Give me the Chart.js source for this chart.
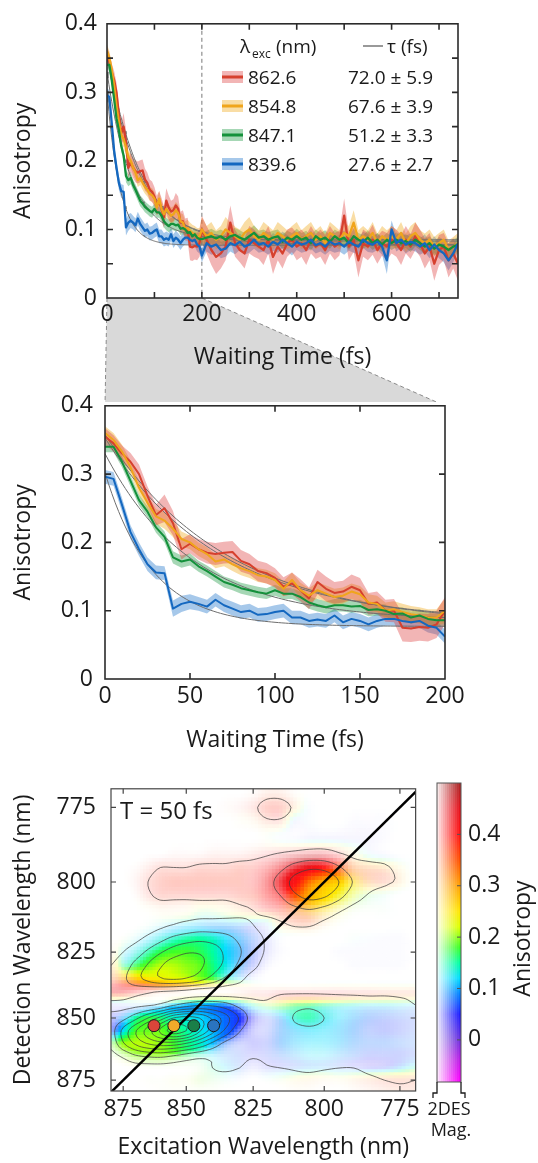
<!DOCTYPE html>
<html>
<head>
<meta charset="utf-8">
<title>Anisotropy decay and 2D anisotropy map</title>
<script src="https://cdn.jsdelivr.net/npm/chart.js@4.4.1/dist/chart.umd.min.js"></script>
<style>
html,body{margin:0;padding:0;background:#ffffff;}
#wrap{position:relative;width:538px;height:1163px;overflow:hidden;background:#fff;}
canvas{position:absolute;display:block;}
</style>
</head>
<body>
<div id="wrap">
<canvas id="cMid" width="538" height="380" style="left:0;top:380px;width:538px;height:380px;"></canvas>
<canvas id="cTop" width="538" height="402" style="left:0;top:0;width:538px;height:402px;"></canvas>
<canvas id="cMap" width="425" height="403" style="left:0;top:760px;width:425px;height:403px;"></canvas>
<canvas id="cBar" width="113" height="403" style="left:425px;top:760px;width:113px;height:403px;"></canvas>
</div>
<script>
// ---------------- DATA ----------------
const timesFs = [0,5,10,15,20,25,30,35,40,45,50,55,60,65,70,75,80,85,90,95,100,105,110,115,120,125,130,135,140,145,150,155,160,165,170,175,180,185,190,195,200,
 210,220,230,240,250,260,270,280,290,300,310,320,330,340,350,360,370,380,390,400,410,420,430,440,450,460,470,480,490,500,
 510,520,530,540,550,560,570,580,590,600,610,620,630,640,650,660,670,680,690,700,710,720,730,740];

const seriesLabels = ['862.6','854.8','847.1','839.6'];
const tauLabels = ['72.0 \u00b1 5.9','67.6 \u00b1 3.9','51.2 \u00b1 3.3','27.6 \u00b1 2.7'];

const anis862 = [0.355,0.345,0.33,0.318,0.3,0.268,0.24,0.25,0.228,0.19,0.198,0.19,0.185,0.183,0.185,0.186,0.173,0.168,0.158,0.155,0.148,0.135,0.14,0.13,0.118,0.142,0.132,0.126,0.128,0.135,0.13,0.11,0.112,0.1,0.1,0.075,0.074,0.076,0.075,0.08,0.1,
 0.085,0.07,0.06,0.065,0.075,0.11,0.08,0.07,0.065,0.085,0.08,0.075,0.07,0.085,0.06,0.075,0.065,0.08,0.085,0.075,
 0.08,0.07,0.085,0.075,0.08,0.07,0.085,0.075,0.08,0.12,0.075,0.085,0.055,0.08,0.075,0.085,0.07,0.08,0.075,0.085,
 0.08,0.07,0.085,0.075,0.09,0.08,0.065,0.075,0.05,0.07,0.075,0.055,0.065,0.05];
const anis855 = [0.36,0.35,0.333,0.31,0.28,0.258,0.238,0.232,0.22,0.205,0.2,0.19,0.183,0.172,0.175,0.168,0.162,0.158,0.152,0.15,0.145,0.132,0.145,0.13,0.122,0.13,0.125,0.12,0.122,0.128,0.124,0.112,0.11,0.1,0.102,0.098,0.095,0.093,0.09,0.09,0.1,
 0.09,0.095,0.085,0.09,0.1,0.095,0.09,0.085,0.095,0.1,0.09,0.085,0.095,0.09,0.085,0.095,0.09,0.085,0.09,0.095,
 0.085,0.09,0.095,0.085,0.09,0.08,0.095,0.09,0.085,0.095,0.09,0.11,0.085,0.09,0.085,0.095,0.08,0.09,0.085,0.09,
 0.085,0.095,0.08,0.09,0.095,0.085,0.08,0.085,0.075,0.08,0.085,0.07,0.075,0.08];
const anis847 = [0.34,0.34,0.318,0.29,0.262,0.245,0.222,0.208,0.178,0.172,0.175,0.165,0.158,0.15,0.142,0.138,0.133,0.13,0.127,0.125,0.13,0.125,0.125,0.12,0.112,0.108,0.105,0.108,0.108,0.106,0.107,0.101,0.102,0.1,0.095,0.096,0.09,0.093,0.088,0.086,0.086,
 0.088,0.09,0.087,0.09,0.085,0.09,0.092,0.088,0.085,0.09,0.095,0.088,0.09,0.085,0.088,0.09,0.082,0.088,0.085,0.09,
 0.085,0.088,0.08,0.09,0.085,0.088,0.082,0.09,0.085,0.088,0.08,0.09,0.085,0.082,0.088,0.08,0.085,0.078,0.085,0.08,
 0.085,0.08,0.083,0.078,0.085,0.08,0.075,0.08,0.072,0.078,0.075,0.07,0.075,0.078];
const anis840 = [0.296,0.293,0.255,0.215,0.19,0.168,0.156,0.155,0.103,0.11,0.113,0.11,0.106,0.116,0.108,0.103,0.098,0.1,0.094,0.095,0.098,0.1,0.09,0.09,0.085,0.087,0.085,0.093,0.083,0.088,0.085,0.08,0.085,0.088,0.088,0.085,0.083,0.085,0.078,0.075,0.062,
 0.08,0.075,0.078,0.07,0.072,0.08,0.077,0.082,0.075,0.078,0.085,0.078,0.08,0.075,0.082,0.078,0.085,0.08,0.075,0.082,
 0.078,0.08,0.085,0.077,0.08,0.075,0.082,0.078,0.08,0.075,0.082,0.078,0.075,0.085,0.08,0.078,0.082,0.075,0.055,0.1,
 0.08,0.085,0.078,0.082,0.08,0.075,0.08,0.07,0.078,0.07,0.065,0.055,0.065,0.08];

const err862 = [0.012,0.012,0.012,0.013,0.014,0.014,0.015,0.02,0.018,0.015,0.014,0.015,0.016,0.016,0.016,0.016,0.016,0.015,0.015,0.015,0.014,0.014,0.016,0.016,0.016,0.018,0.018,0.016,0.016,0.018,0.018,0.016,0.016,0.016,0.017,0.02,0.02,0.02,0.02,0.02,0.02,
 0.02,0.022,0.025,0.022,0.02,0.025,0.02,0.018,0.022,0.02,0.02,0.018,0.022,0.02,0.025,0.02,0.022,0.02,0.018,0.02,
 0.02,0.022,0.02,0.018,0.02,0.022,0.02,0.02,0.018,0.025,0.02,0.018,0.025,0.02,0.02,0.022,0.02,0.018,0.02,0.02,
 0.02,0.022,0.02,0.018,0.02,0.02,0.022,0.02,0.025,0.022,0.02,0.025,0.022,0.025];
const err855 = [0.01,0.01,0.01,0.01,0.01,0.011,0.011,0.012,0.012,0.011,0.01,0.01,0.01,0.01,0.01,0.01,0.01,0.01,0.01,0.01,0.01,0.011,0.011,0.011,0.011,0.012,0.012,0.012,0.012,0.012,0.012,0.012,0.012,0.012,0.012,0.012,0.012,0.012,0.012,0.012,0.018,
 0.015,0.016,0.014,0.015,0.018,0.015,0.014,0.015,0.016,0.018,0.015,0.014,0.016,0.015,0.014,0.016,0.015,0.014,0.015,0.016,
 0.014,0.015,0.016,0.014,0.015,0.014,0.016,0.015,0.014,0.016,0.015,0.018,0.014,0.015,0.014,0.016,0.014,0.015,0.014,0.015,
 0.014,0.016,0.014,0.015,0.016,0.014,0.014,0.015,0.014,0.015,0.015,0.014,0.014,0.015];
const err847 = [0.008,0.008,0.008,0.008,0.008,0.008,0.008,0.008,0.009,0.009,0.009,0.008,0.008,0.008,0.008,0.008,0.008,0.008,0.008,0.008,0.008,0.008,0.008,0.008,0.009,0.009,0.009,0.009,0.009,0.009,0.009,0.009,0.009,0.009,0.009,0.009,0.009,0.009,0.009,0.009,0.009,
 0.01,0.011,0.01,0.01,0.011,0.01,0.01,0.011,0.01,0.01,0.011,0.01,0.01,0.011,0.01,0.01,0.011,0.01,0.01,0.011,
 0.01,0.01,0.011,0.01,0.01,0.011,0.01,0.01,0.011,0.01,0.01,0.011,0.01,0.01,0.011,0.01,0.01,0.011,0.01,0.01,
 0.011,0.01,0.01,0.011,0.01,0.01,0.011,0.01,0.01,0.011,0.01,0.01,0.011,0.01];
const err840 = [0.01,0.01,0.01,0.01,0.01,0.01,0.01,0.01,0.012,0.012,0.011,0.01,0.01,0.01,0.01,0.01,0.01,0.01,0.01,0.01,0.01,0.01,0.01,0.01,0.01,0.01,0.01,0.01,0.01,0.01,0.01,0.01,0.01,0.01,0.01,0.01,0.01,0.01,0.01,0.01,0.01,
 0.012,0.012,0.013,0.012,0.012,0.012,0.013,0.012,0.012,0.012,0.013,0.012,0.012,0.012,0.013,0.012,0.012,0.012,0.013,0.012,
 0.012,0.012,0.013,0.012,0.012,0.012,0.013,0.012,0.012,0.012,0.013,0.012,0.012,0.012,0.013,0.012,0.012,0.012,0.02,0.013,
 0.012,0.012,0.013,0.012,0.012,0.012,0.013,0.012,0.012,0.012,0.013,0.015,0.013,0.012];

// exponential fit parameters (amplitude, tau in fs, offset)
const fitAmp = [0.28,0.27,0.245,0.225];
const fitTau = [72.0,67.6,51.2,27.6];
const fitOffset = [0.078,0.083,0.085,0.077];

const topXTicks = [0,100,200,300,400,500,600,700];
const topXLabels = [0,200,400,600];
const topYTicks = [0,0.05,0.1,0.15,0.2,0.25,0.3,0.35,0.4];
const yLabels = [0,0.1,0.2,0.3,0.4];
const midXTicks = [0,50,100,150,200];
const midYTicks = [0,0.1,0.2,0.3,0.4];
const zoomWindow = [0,200];

// 2D map (T = 50 fs): excitation columns, detection rows (nm)
const excWl = [880,875,870,865,860,855,850,845,840,835,830,825,820,815,810,805,800,795,790,785,780,775,770];
const detWl = [770,775,780,785,790,795,800,805,810,815,820,825,830,835,840,845,850,855,860,865,870,875,880];
// normalized 2DES magnitude
const magGrid = [
 [0.03,0.03,0.03,0.03,0.03,0.03,0.03,0.04,0.04,0.05,0.05,0.06,0.08,0.08,0.06,0.05,0.04,0.04,0.04,0.04,0.04,0.04,0.04],
 [0.03,0.03,0.04,0.04,0.04,0.04,0.04,0.04,0.05,0.06,0.07,0.09,0.12,0.12,0.09,0.06,0.05,0.05,0.05,0.05,0.05,0.05,0.05],
 [0.03,0.03,0.04,0.04,0.05,0.05,0.04,0.04,0.05,0.05,0.06,0.07,0.09,0.09,0.07,0.06,0.05,0.05,0.06,0.06,0.06,0.05,0.05],
 [0.03,0.03,0.04,0.05,0.05,0.05,0.05,0.05,0.05,0.05,0.05,0.05,0.06,0.06,0.06,0.07,0.07,0.07,0.07,0.07,0.06,0.05,0.05],
 [0.03,0.04,0.04,0.05,0.05,0.06,0.06,0.06,0.07,0.07,0.07,0.08,0.09,0.10,0.11,0.12,0.12,0.10,0.08,0.07,0.06,0.05,0.05],
 [0.04,0.05,0.06,0.08,0.10,0.10,0.10,0.11,0.11,0.11,0.12,0.12,0.14,0.18,0.24,0.28,0.27,0.21,0.14,0.12,0.11,0.08,0.05],
 [0.04,0.05,0.07,0.10,0.12,0.13,0.13,0.13,0.13,0.13,0.13,0.13,0.17,0.24,0.34,0.39,0.38,0.30,0.19,0.13,0.11,0.09,0.05],
 [0.03,0.04,0.06,0.09,0.11,0.11,0.11,0.11,0.11,0.11,0.12,0.13,0.16,0.20,0.28,0.33,0.31,0.23,0.14,0.09,0.07,0.05,0.04],
 [0.03,0.04,0.05,0.06,0.07,0.07,0.07,0.08,0.08,0.08,0.09,0.10,0.12,0.14,0.17,0.19,0.16,0.11,0.07,0.06,0.06,0.05,0.04],
 [0.03,0.04,0.05,0.06,0.08,0.10,0.12,0.13,0.13,0.13,0.12,0.10,0.08,0.09,0.11,0.11,0.08,0.06,0.05,0.05,0.05,0.05,0.04],
 [0.05,0.06,0.08,0.12,0.17,0.22,0.25,0.27,0.26,0.23,0.18,0.13,0.09,0.06,0.05,0.05,0.05,0.05,0.06,0.06,0.06,0.06,0.05],
 [0.07,0.10,0.15,0.22,0.29,0.35,0.39,0.39,0.35,0.28,0.21,0.14,0.09,0.06,0.05,0.05,0.05,0.06,0.06,0.06,0.06,0.06,0.05],
 [0.10,0.15,0.23,0.31,0.39,0.45,0.46,0.42,0.35,0.27,0.18,0.12,0.07,0.05,0.05,0.05,0.05,0.05,0.06,0.06,0.06,0.06,0.05],
 [0.12,0.18,0.26,0.33,0.39,0.41,0.39,0.34,0.26,0.18,0.12,0.07,0.05,0.04,0.04,0.05,0.05,0.05,0.05,0.05,0.05,0.05,0.05],
 [0.15,0.15,0.13,0.11,0.09,0.08,0.07,0.06,0.06,0.06,0.07,0.08,0.08,0.09,0.09,0.09,0.09,0.09,0.09,0.09,0.09,0.09,0.09],
 [0.08,0.08,0.08,0.09,0.12,0.19,0.25,0.29,0.28,0.24,0.17,0.12,0.11,0.14,0.17,0.18,0.16,0.14,0.13,0.12,0.12,0.11,0.10],
 [0.13,0.17,0.27,0.40,0.54,0.70,0.75,0.70,0.58,0.44,0.29,0.15,0.11,0.15,0.21,0.23,0.20,0.16,0.15,0.14,0.13,0.12,0.11],
 [0.16,0.33,0.49,0.65,0.82,0.95,0.90,0.72,0.54,0.37,0.21,0.12,0.11,0.15,0.17,0.18,0.17,0.16,0.15,0.13,0.13,0.12,0.11],
 [0.13,0.29,0.42,0.51,0.56,0.56,0.50,0.40,0.28,0.17,0.12,0.12,0.12,0.15,0.15,0.15,0.15,0.15,0.14,0.13,0.13,0.12,0.11],
 [0.07,0.12,0.19,0.22,0.23,0.20,0.16,0.13,0.12,0.11,0.11,0.105,0.11,0.12,0.12,0.12,0.12,0.12,0.12,0.12,0.12,0.12,0.11],
 [0.04,0.05,0.06,0.06,0.06,0.06,0.06,0.07,0.10,0.11,0.10,0.08,0.095,0.10,0.105,0.11,0.105,0.10,0.10,0.11,0.115,0.12,0.11],
 [0.04,0.04,0.05,0.06,0.06,0.07,0.07,0.09,0.08,0.07,0.06,0.05,0.06,0.07,0.08,0.08,0.07,0.07,0.08,0.09,0.10,0.105,0.10],
 [0.04,0.04,0.05,0.05,0.06,0.06,0.06,0.06,0.06,0.05,0.05,0.04,0.04,0.05,0.06,0.06,0.05,0.05,0.06,0.07,0.08,0.09,0.09]
];
// anisotropy
const anisoGrid = [
 [0.2,0.2,0.2,0.25,0.3,0.3,0.3,0.35,0.35,0.35,0.35,0.35,0.35,0.35,0.3,0.15,0.12,0.08,0.05,0.05,0.05,0.1,0.2],
 [0.3,0.3,0.25,0.2,0.2,0.2,0.25,0.3,0.35,0.35,0.38,0.38,0.38,0.38,0.3,0.1,0.12,0.08,0.04,0.04,0.05,0.15,0.22],
 [0.3,0.25,0.2,0.2,0.2,0.22,0.28,0.3,0.35,0.3,0.25,0.3,0.35,0.35,0.06,0.1,0.12,0.1,0.04,0.03,0.04,0.15,0.2],
 [0.25,0.22,0.2,0.18,0.2,0.25,0.3,0.35,0.38,0.38,0.38,0.3,0.2,0.1,0.05,0.06,0.06,0.04,0.03,0.03,0.04,0.08,0.15],
 [0.3,0.3,0.3,0.35,0.38,0.38,0.38,0.38,0.38,0.38,0.38,0.38,0.4,0.42,0.43,0.44,0.43,0.38,0.25,0.1,0.05,0.05,0.1],
 [0.3,0.32,0.35,0.38,0.38,0.38,0.38,0.38,0.38,0.38,0.38,0.39,0.41,0.43,0.44,0.43,0.4,0.36,0.33,0.32,0.3,0.25,0.15],
 [0.32,0.35,0.38,0.38,0.38,0.38,0.38,0.38,0.38,0.38,0.38,0.4,0.42,0.43,0.41,0.33,0.29,0.27,0.26,0.32,0.36,0.3,0.2],
 [0.3,0.32,0.35,0.38,0.38,0.38,0.38,0.38,0.38,0.38,0.38,0.38,0.4,0.4,0.35,0.29,0.26,0.24,0.22,0.18,0.15,0.12,0.1],
 [0.25,0.22,0.2,0.25,0.3,0.3,0.28,0.2,0.2,0.25,0.3,0.35,0.38,0.38,0.33,0.29,0.26,0.24,0.2,0.18,0.17,0.12,0.1],
 [0.2,0.2,0.18,0.15,0.13,0.12,0.12,0.11,0.1,0.1,0.1,0.08,0.1,0.3,0.35,0.35,0.3,0.22,0.2,0.2,0.18,0.1,0.08],
 [0.35,0.2,0.13,0.12,0.13,0.14,0.15,0.15,0.14,0.12,0.1,0.08,0.06,0.1,0.15,0.2,0.18,0.18,0.15,0.1,0.05,0.04,0.05],
 [0.3,0.13,0.13,0.15,0.17,0.18,0.18,0.17,0.15,0.12,0.1,0.07,0.05,0.05,0.05,0.04,0.04,0.04,0.04,0.04,0.04,0.04,0.05],
 [0.3,0.16,0.17,0.19,0.21,0.21,0.2,0.19,0.16,0.13,0.1,0.06,0.05,0.05,0.05,0.04,0.04,0.04,0.04,0.04,0.04,0.04,0.05],
 [0.35,0.3,0.27,0.25,0.24,0.23,0.22,0.2,0.18,0.15,0.12,0.08,0.05,0.04,0.04,0.04,0.04,0.04,0.04,0.04,0.04,0.04,0.05],
 [0.42,0.42,0.4,0.38,0.35,0.33,0.32,0.3,0.3,0.32,0.35,0.38,0.4,0.4,0.4,0.4,0.4,0.4,0.38,0.38,0.36,0.35,0.35],
 [0.06,0.08,0.1,0.11,0.12,0.12,0.11,0.11,0.1,0.09,0.1,0.15,0.2,0.2,0.18,0.17,0.16,0.15,0.14,0.13,0.13,0.13,0.12],
 [0.05,0.1,0.15,0.17,0.16,0.14,0.13,0.12,0.1,0.08,0.06,0.05,0.07,0.1,0.14,0.15,0.13,0.12,0.1,0.08,0.07,0.07,0.07],
 [0.06,0.12,0.18,0.19,0.19,0.17,0.15,0.13,0.11,0.08,0.06,0.05,0.06,0.09,0.11,0.12,0.12,0.11,0.09,0.07,0.06,0.06,0.07],
 [0.18,0.2,0.21,0.21,0.2,0.18,0.16,0.14,0.11,0.08,0.06,0.05,0.06,0.09,0.11,0.12,0.12,0.11,0.09,0.08,0.08,0.08,0.08],
 [0.2,0.2,0.2,0.2,0.2,0.19,0.17,0.15,0.12,0.09,0.07,0.05,0.06,0.08,0.1,0.12,0.12,0.1,0.08,0.06,0.06,0.06,0.07],
 [0.3,0.25,0.22,0.2,0.2,0.2,0.2,0.18,0.15,0.12,0.08,0.05,0.05,0.06,0.08,0.1,0.1,0.08,0.06,0.05,0.06,0.1,0.15],
 [0.35,0.3,0.25,0.22,0.22,0.22,0.22,0.2,0.18,0.15,0.1,0.1,0.15,0.2,0.25,0.28,0.28,0.25,0.3,0.33,0.35,0.35,0.35],
 [0.35,0.3,0.25,0.22,0.22,0.22,0.22,0.2,0.2,0.2,0.2,0.2,0.2,0.25,0.28,0.3,0.3,0.3,0.33,0.35,0.35,0.35,0.35]
];
const contourLevels = [0.1,0.2,0.3,0.4,0.5,0.6,0.7,0.8,0.9];
const heatTickWl = [875,850,825,800,775];
const heatXRangeWl = [880,770];
const heatYRangeWl = [879.5,769];
const diagWl = [890,760];
const dotExcWl = [862.6,854.8,847.1,839.6];
const dotDetWl = 853;
const mapLabel = 'T = 50 fs';

// colour bar
const anisoStops = [-0.082,-0.04,0,0.05,0.09,0.12,0.15,0.18,0.22,0.25,0.3,0.35,0.4,0.45,0.5];
const cbTicks = [0,0.1,0.2,0.3,0.4];
const cbMagLevels = [0.12,0.2,0.28,0.36,0.44,0.52,0.6,0.68,0.76,0.84,0.92,1.0];

// ---------------- STYLE ----------------
const FONT = "'Open Sans', 'Noto Sans', sans-serif";
const TXT = '#1a1a1a';
const lineColors = ['#d6402e','#f0a51c','#14913b','#1468c0'];
const bandColors = ['rgba(220,60,60,0.38)','rgba(240,170,30,0.4)','rgba(20,150,60,0.38)','rgba(20,110,200,0.38)'];
const dotColors = ['#d9453a','#f2aa2a','#1a7f48','#2a74c0'];
const stopColors = [[255,0,255],[190,30,230],[110,50,220],[30,30,255],[0,130,255],[0,220,255],[0,255,160],[60,255,40],[220,255,0],[255,230,0],[255,160,0],[255,80,0],[255,20,20],[230,20,30],[170,40,40]];
const SAT_LO = 0.05, SAT_HI = 0.28, SAT_GAMMA = 1.3;
const MID_TOP = 380;

Chart.defaults.font.family = FONT;
Chart.defaults.color = TXT;
Chart.defaults.animation = false;

// ---------------- HELPERS ----------------
const near = (v, arr) => arr.some(l => Math.abs(l - v) < 1e-9);
const fmtY = v => (Math.abs(v) < 1e-9 ? '0' : v.toFixed(1));

function makeFrame(id, o) {
  return { id, afterDatasetsDraw(chart) {
    const {ctx, chartArea: a} = chart;
    const xs = chart.scales.x, ys = chart.scales.y;
    ctx.save();
    ctx.strokeStyle = o.color; ctx.lineWidth = o.width; ctx.setLineDash([]);
    ctx.beginPath();
    xs.ticks.forEach(t => {
      const p = xs.getPixelForValue(t.value);
      if (p <= a.left + 1 || p >= a.right - 1) return;
      ctx.moveTo(p, a.bottom); ctx.lineTo(p, a.bottom - o.len);
      ctx.moveTo(p, a.top); ctx.lineTo(p, a.top + o.len);
    });
    ys.ticks.forEach(t => {
      const p = ys.getPixelForValue(t.value);
      if (p >= a.bottom - 1 || p <= a.top + 1) return;
      ctx.moveTo(a.left, p); ctx.lineTo(a.left + o.len, p);
      ctx.moveTo(a.right, p); ctx.lineTo(a.right - o.len, p);
    });
    ctx.stroke();
    ctx.strokeRect(a.left, a.top, a.width, a.height);
    ctx.restore();
  }};
}

const seriesVals = [anis862, anis855, anis847, anis840];
const seriesErr = [err862, err855, err847, err840];

function fitCurve(i, tMax) {
  const pts = [];
  for (let t = 0; t <= tMax; t += 2) pts.push({x: t, y: fitAmp[i] * Math.exp(-t / fitTau[i]) + fitOffset[i]});
  return pts;
}

function buildDatasets(tMax, lw) {
  const ds = [];
  const idx = timesFs.map((t, k) => k).filter(k => timesFs[k] <= tMax);
  seriesVals.forEach((vals, i) => {
    ds.push({data: idx.map(k => ({x: timesFs[k], y: vals[k] + seriesErr[i][k]})), borderWidth: 0, borderColor: 'rgba(0,0,0,0)', pointRadius: 0, fill: false, order: 20 + i, tension: 0});
    ds.push({data: idx.map(k => ({x: timesFs[k], y: vals[k] - seriesErr[i][k]})), borderWidth: 0, borderColor: 'rgba(0,0,0,0)', pointRadius: 0, fill: '-1', backgroundColor: bandColors[i], order: 20 + i, tension: 0});
  });
  seriesVals.forEach((vals, i) => ds.push({data: fitCurve(i, tMax), borderColor: '#6e6e6e', borderWidth: 1, pointRadius: 0, fill: false, order: 10, tension: 0}));
  seriesVals.forEach((vals, i) => ds.push({data: idx.map(k => ({x: timesFs[k], y: vals[k]})), borderColor: lineColors[i], borderWidth: lw, pointRadius: 0, fill: false, order: 3 - i, tension: 0, borderJoinStyle: 'round'}));
  return ds;
}

function lineOptions(cfg) {
  return {
    responsive: false, devicePixelRatio: 1, animation: false, events: [],
    layout: {padding: cfg.padding},
    plugins: {legend: {display: false}, tooltip: {enabled: false}},
    scales: {
      x: {type: 'linear', min: cfg.xMin, max: cfg.xMax,
        afterBuildTicks: s => { s.ticks = cfg.xTicks.map(v => ({value: v})); },
        afterFit: s => { s.height = cfg.xHeight; },
        ticks: {autoSkip: false, maxRotation: 0, padding: cfg.xPad, font: {size: 23}, color: TXT,
          callback: v => near(v, cfg.xLabels) ? String(v) : ''},
        grid: {display: false, drawTicks: false}, border: {display: false},
        title: {display: true, text: 'Waiting Time (fs)', font: {size: 23}, color: TXT, padding: {top: 0, bottom: cfg.xTitlePad}}},
      y: {type: 'linear', min: 0, max: 0.4,
        afterBuildTicks: s => { s.ticks = cfg.yTicks.map(v => ({value: v})); },
        afterFit: s => { s.width = cfg.yWidth; },
        ticks: {autoSkip: false, padding: cfg.yPad, font: {size: 23}, color: TXT,
          callback: v => near(v, yLabels) ? fmtY(v) : ''},
        grid: {display: false, drawTicks: false}, border: {display: false},
        title: {display: true, text: 'Anisotropy', font: {size: 23}, color: TXT, padding: {top: 10, bottom: 0}}}
    }
  };
}

// ---------------- MIDDLE CHART ----------------
const midChart = new Chart(document.getElementById('cMid'), {
  type: 'line',
  data: {datasets: buildDatasets(200, 2)},
  options: lineOptions({padding: {left: 0, right: 93, top: 22, bottom: 0}, xMin: 0, xMax: 200, xTicks: midXTicks, xLabels: midXTicks,
    yTicks: midYTicks, xHeight: 81, yWidth: 105, xPad: 4, yPad: 12, xTitlePad: 6}),
  plugins: [makeFrame('frameMid', {color: '#2b2b2b', width: 1.6, len: 6})]
});

// ---------------- TOP CHART ----------------
const wedgePlugin = {
  id: 'wedge',
  beforeDraw(chart) {
    const {ctx, chartArea: a, scales: {x}} = chart;
    const m = midChart;
    const x0 = x.getPixelForValue(zoomWindow[0]), x1 = x.getPixelForValue(zoomWindow[1]);
    const yb = MID_TOP + m.chartArea.top;
    const mx0 = m.scales.x.getPixelForValue(zoomWindow[0]), mx1 = m.scales.x.getPixelForValue(zoomWindow[1]);
    ctx.save();
    ctx.fillStyle = '#d9d9d9';
    ctx.beginPath(); ctx.moveTo(x0, a.bottom); ctx.lineTo(x1, a.bottom); ctx.lineTo(mx1, yb); ctx.lineTo(mx0, yb); ctx.closePath(); ctx.fill();
    ctx.setLineDash([4, 3]); ctx.strokeStyle = '#8a8a8a'; ctx.lineWidth = 1;
    ctx.beginPath(); ctx.moveTo(x0, a.bottom); ctx.lineTo(mx0, yb); ctx.moveTo(x1, a.bottom); ctx.lineTo(mx1, yb); ctx.stroke();
    ctx.restore();
  },
  beforeDatasetsDraw(chart) {
    const {ctx, chartArea: a, scales: {x}} = chart;
    const p = x.getPixelForValue(zoomWindow[1]);
    ctx.save(); ctx.setLineDash([4, 3]); ctx.strokeStyle = '#777'; ctx.lineWidth = 1;
    ctx.beginPath(); ctx.moveTo(p, a.top); ctx.lineTo(p, a.bottom); ctx.stroke(); ctx.restore();
  }
};

const tableLegend = {
  id: 'tableLegend',
  afterDatasetsDraw(chart) {
    const ctx = chart.ctx;
    ctx.save();
    ctx.fillStyle = TXT; ctx.textAlign = 'left'; ctx.textBaseline = 'alphabetic';
    ctx.font = `19px ${FONT}`; ctx.fillText('\u03bb', 240, 53);
    ctx.font = `12px ${FONT}`; ctx.fillText('exc', 252, 58);
    ctx.font = `19px ${FONT}`; ctx.fillText('(nm)', 276, 53);
    ctx.strokeStyle = '#777'; ctx.lineWidth = 1.5;
    ctx.beginPath(); ctx.moveTo(363, 46); ctx.lineTo(383, 46); ctx.stroke();
    ctx.fillText('\u03c4 (fs)', 387, 53);
    seriesLabels.forEach((lab, i) => {
      const cy = 77 + i * 29;
      ctx.fillStyle = '#ffffff'; ctx.fillRect(222, cy - 6, 21, 12);
      ctx.fillStyle = bandColors[i]; ctx.fillRect(222, cy - 6, 21, 12);
      ctx.fillStyle = lineColors[i]; ctx.fillRect(222, cy - 1.5, 21, 3);
      ctx.fillStyle = TXT; ctx.font = `19px ${FONT}`;
      ctx.fillText(lab, 248, cy + 7);
      ctx.fillText(tauLabels[i], 348, cy + 7);
    });
    ctx.restore();
  }
};

const topChart = new Chart(document.getElementById('cTop'), {
  type: 'line',
  data: {datasets: buildDatasets(740, 2.3)},
  options: lineOptions({padding: {left: 0, right: 80, top: 22, bottom: 30}, xMin: 0, xMax: 740, xTicks: topXTicks, xLabels: topXLabels,
    yTicks: topYTicks, xHeight: 74, yWidth: 107, xPad: 3, yPad: 10, xTitlePad: 1}),
  plugins: [wedgePlugin, makeFrame('frameTop', {color: '#2b2b2b', width: 1.6, len: 6}), tableLegend]
});

// ---------------- 2D MAP ----------------
function cr(p0, p1, p2, p3, t) {
  const t2 = t * t, t3 = t2 * t;
  return 0.5 * ((2 * p1) + (-p0 + p2) * t + (2 * p0 - 5 * p1 + 4 * p2 - p3) * t2 + (-p0 + 3 * p1 - 3 * p2 + p3) * t3);
}
function upsample(grid, F) {
  const R = grid.length, C = grid[0].length;
  const cl = (v, n) => Math.max(0, Math.min(n - 1, v));
  const Cf = (C - 1) * F + 1, Rf = (R - 1) * F + 1;
  const tmp = [];
  for (let r = 0; r < R; r++) {
    const row = [];
    for (let fc = 0; fc < Cf; fc++) {
      const c = Math.min(C - 2, Math.floor(fc / F)), t = (fc - c * F) / F;
      row.push(cr(grid[r][cl(c - 1, C)], grid[r][c], grid[r][c + 1], grid[r][cl(c + 2, C)], t));
    }
    tmp.push(row);
  }
  const out = [];
  for (let fr = 0; fr < Rf; fr++) {
    const r = Math.min(R - 2, Math.floor(fr / F)), t = (fr - r * F) / F;
    const row = [];
    for (let fc = 0; fc < Cf; fc++) row.push(cr(tmp[cl(r - 1, R)][fc], tmp[r][fc], tmp[r + 1][fc], tmp[cl(r + 2, R)][fc], t));
    out.push(row);
  }
  return out;
}
function upsampleAxis(arr, F) {
  const out = [];
  for (let i = 0; i < arr.length - 1; i++) for (let k = 0; k < F; k++) out.push(arr[i] + (arr[i + 1] - arr[i]) * k / F);
  out.push(arr[arr.length - 1]);
  return out;
}
const UP = 4;
const magFine = upsample(magGrid, UP);
const anisoFine = upsample(anisoGrid, UP);
const excFine = upsampleAxis(excWl, UP);
const detFine = upsampleAxis(detWl, UP);

function hue(a) {
  const n = anisoStops.length;
  if (a <= anisoStops[0]) return stopColors[0];
  for (let i = 1; i < n; i++) {
    if (a <= anisoStops[i]) {
      const t = (a - anisoStops[i - 1]) / (anisoStops[i] - anisoStops[i - 1]);
      const c0 = stopColors[i - 1], c1 = stopColors[i];
      return [c0[0] + (c1[0] - c0[0]) * t, c0[1] + (c1[1] - c0[1]) * t, c0[2] + (c1[2] - c0[2]) * t];
    }
  }
  return stopColors[n - 1];
}
function mix(h, s) {
  return `rgb(${Math.round(255 + (h[0] - 255) * s)},${Math.round(255 + (h[1] - 255) * s)},${Math.round(255 + (h[2] - 255) * s)})`;
}
function colorFor(m, a) {
  let s = Math.max(0, Math.min(1, (m - SAT_LO) / (SAT_HI - SAT_LO)));
  s = Math.pow(s, SAT_GAMMA);
  return mix(hue(a), s);
}

function drawContours(ctx, G, xs, ys, level) {
  const Rf = G.length, Cf = G[0].length;
  ctx.beginPath();
  for (let r = 0; r < Rf - 1; r++) {
    for (let c = 0; c < Cf - 1; c++) {
      const v0 = G[r][c], v1 = G[r][c + 1], v2 = G[r + 1][c + 1], v3 = G[r + 1][c];
      const b0 = v0 > level, b1 = v1 > level, b2 = v2 > level, b3 = v3 > level;
      if (b0 === b1 && b1 === b2 && b2 === b3) continue;
      const E = {};
      if (b0 !== b1) E.top = [xs[c] + (xs[c + 1] - xs[c]) * (level - v0) / (v1 - v0), ys[r]];
      if (b1 !== b2) E.right = [xs[c + 1], ys[r] + (ys[r + 1] - ys[r]) * (level - v1) / (v2 - v1)];
      if (b3 !== b2) E.bottom = [xs[c] + (xs[c + 1] - xs[c]) * (level - v3) / (v2 - v3), ys[r + 1]];
      if (b0 !== b3) E.left = [xs[c], ys[r] + (ys[r + 1] - ys[r]) * (level - v0) / (v3 - v0)];
      const keys = Object.keys(E);
      const seg = (p, q) => { ctx.moveTo(p[0], p[1]); ctx.lineTo(q[0], q[1]); };
      if (keys.length === 2) seg(E[keys[0]], E[keys[1]]);
      else if (keys.length === 4) {
        const center = (v0 + v1 + v2 + v3) / 4 > level;
        if ((b0 && center) || (!b0 && !center)) { seg(E.top, E.right); seg(E.bottom, E.left); }
        else { seg(E.top, E.left); seg(E.bottom, E.right); }
      }
    }
  }
  ctx.stroke();
}

const heatPlugin = {
  id: 'heat',
  beforeDatasetsDraw(chart) {
    const {ctx, chartArea: a, scales: {x: xs, y: ys}} = chart;
    const px = excFine.map(w => xs.getPixelForValue(1e7 / w));
    const py = detFine.map(w => ys.getPixelForValue(1e7 / w));
    const edges = arr => {
      const n = arr.length, e = [arr[0] - (arr[1] - arr[0]) * 2];
      for (let i = 1; i < n; i++) e.push((arr[i - 1] + arr[i]) / 2);
      e.push(arr[n - 1] + (arr[n - 1] - arr[n - 2]) * 2);
      return e;
    };
    const xe = edges(px), ye = edges(py);
    ctx.save();
    ctx.beginPath(); ctx.rect(a.left, a.top, a.width, a.height); ctx.clip();
    for (let r = 0; r < magFine.length; r++) {
      for (let c = 0; c < magFine[0].length; c++) {
        ctx.fillStyle = colorFor(magFine[r][c], anisoFine[r][c]);
        const x0 = Math.min(xe[c], xe[c + 1]), w = Math.abs(xe[c + 1] - xe[c]);
        const y0 = Math.min(ye[r], ye[r + 1]), h = Math.abs(ye[r + 1] - ye[r]);
        ctx.fillRect(x0 - 0.3, y0 - 0.3, w + 0.6, h + 0.6);
      }
    }
    ctx.strokeStyle = 'rgba(60,60,60,0.8)'; ctx.lineWidth = 0.9;
    contourLevels.forEach(l => drawContours(ctx, magFine, px, py, l));
    ctx.restore();
  },
  afterDatasetsDraw(chart) {
    const {ctx, chartArea: a} = chart;
    ctx.save(); ctx.fillStyle = TXT; ctx.font = `24px ${FONT}`; ctx.textAlign = 'left'; ctx.textBaseline = 'alphabetic';
    ctx.fillText(mapLabel, a.left + 9, a.top + 30);
    ctx.restore();
  }
};

const waveTicks = s => { s.ticks = heatTickWl.map(w => ({value: 1e7 / w})); };
const mapChart = new Chart(document.getElementById('cMap'), {
  type: 'scatter',
  data: {datasets: [
    {data: diagWl.map(w => ({x: 1e7 / w, y: 1e7 / w})), showLine: true, borderColor: '#000', borderWidth: 2.5, pointRadius: 0, order: 1},
    {data: dotExcWl.map(w => ({x: 1e7 / w, y: 1e7 / dotDetWl})), pointRadius: 6, pointBackgroundColor: dotColors, pointBorderColor: '#1a1a1a', pointBorderWidth: 1, order: 0}
  ]},
  options: {
    responsive: false, devicePixelRatio: 1, animation: false, events: [],
    layout: {padding: {left: 0, right: 6, top: 23, bottom: 0}},
    plugins: {legend: {display: false}, tooltip: {enabled: false}},
    scales: {
      x: {type: 'linear', min: 1e7 / heatXRangeWl[0], max: 1e7 / heatXRangeWl[1],
        afterBuildTicks: waveTicks, afterFit: s => { s.height = 72; },
        ticks: {autoSkip: false, maxRotation: 0, padding: 5, font: {size: 23}, color: TXT, callback: v => String(Math.round(1e7 / v))},
        grid: {display: false, drawTicks: false}, border: {display: false},
        title: {display: true, text: 'Excitation Wavelength (nm)', font: {size: 23}, color: TXT, padding: {top: 0, bottom: 2}}},
      y: {type: 'linear', min: 1e7 / heatYRangeWl[0], max: 1e7 / heatYRangeWl[1],
        afterBuildTicks: waveTicks, afterFit: s => { s.width = 111; },
        ticks: {autoSkip: false, padding: 15, font: {size: 23}, color: TXT, callback: v => String(Math.round(1e7 / v))},
        grid: {display: false, drawTicks: false}, border: {display: false},
        title: {display: true, text: 'Detection Wavelength (nm)', font: {size: 23}, color: TXT, padding: {top: 10, bottom: 0}}}
    }
  },
  plugins: [heatPlugin, makeFrame('frameMap', {color: '#444', width: 1.2, len: 5})]
});

// ---------------- COLOUR BAR ----------------
const barPlugin = {
  id: 'bar',
  beforeDatasetsDraw(chart) {
    const {ctx, chartArea: a, scales: {x: xs, y: ys}} = chart;
    const n = cbMagLevels.length, last = anisoStops.length - 1;
    const yLo = ys.getPixelForValue(anisoStops[0]), yHi = ys.getPixelForValue(anisoStops[last]);
    ctx.save();
    ctx.beginPath(); ctx.rect(a.left, a.top, a.width, a.height); ctx.clip();
    for (let i = 0; i < n; i++) {
      const s = cbMagLevels[i];
      const x0 = xs.getPixelForValue(i === 0 ? xs.min : (cbMagLevels[i - 1] + s) / 2);
      const x1 = xs.getPixelForValue(i === n - 1 ? xs.max : (s + cbMagLevels[i + 1]) / 2);
      const g = ctx.createLinearGradient(0, yLo, 0, yHi);
      anisoStops.forEach((v, k) => g.addColorStop((v - anisoStops[0]) / (anisoStops[last] - anisoStops[0]), mix(stopColors[k], s)));
      ctx.fillStyle = g;
      ctx.fillRect(x0, a.top, x1 - x0 + 0.6, a.height);
    }
    ctx.restore();
  },
  afterDatasetsDraw(chart) {
    const {ctx, chartArea: a, scales: {y: ys}} = chart;
    ctx.save();
    ctx.strokeStyle = '#555'; ctx.lineWidth = 1;
    ctx.strokeRect(a.left, a.top, a.width, a.height);
    ctx.beginPath();
    cbTicks.forEach(v => { const p = ys.getPixelForValue(v); ctx.moveTo(a.right, p); ctx.lineTo(a.right - 4, p); });
    ctx.stroke();
    ctx.strokeStyle = '#1a1a1a'; ctx.lineWidth = 1.3;
    ctx.beginPath();
    ctx.moveTo(a.left, a.bottom); ctx.lineTo(a.left, a.bottom + 11); ctx.lineTo(a.left - 4, a.bottom + 11); ctx.lineTo(a.left - 4, a.bottom + 16);
    ctx.moveTo(a.right, a.bottom); ctx.lineTo(a.right, a.bottom + 11); ctx.lineTo(a.right + 4, a.bottom + 11); ctx.lineTo(a.right + 4, a.bottom + 16);
    ctx.stroke();
    ctx.fillStyle = TXT; ctx.textAlign = 'center'; ctx.textBaseline = 'middle';
    ctx.font = `18px ${FONT}`;
    const cx = (a.left + a.right) / 2;
    ctx.fillText('2DES', cx, a.bottom + 28);
    ctx.fillText('Mag.', cx + 2, a.bottom + 49);
    ctx.font = `23px ${FONT}`;
    ctx.translate(98, (a.top + a.bottom) / 2 + 6);
    ctx.rotate(-Math.PI / 2);
    ctx.fillText('Anisotropy', 0, 0);
    ctx.restore();
  }
};

const barChart = new Chart(document.getElementById('cBar'), {
  type: 'scatter',
  data: {datasets: []},
  options: {
    responsive: false, devicePixelRatio: 1, animation: false, events: [],
    layout: {padding: {left: 12, right: 0, top: 23, bottom: 81}},
    plugins: {legend: {display: false}, tooltip: {enabled: false}},
    scales: {
      x: {type: 'linear', min: 0.08, max: 1.04, display: false},
      y: {type: 'linear', position: 'right', min: anisoStops[0], max: anisoStops[anisoStops.length - 1],
        afterBuildTicks: s => { s.ticks = cbTicks.map(v => ({value: v})); }, afterFit: s => { s.width = 77; },
        ticks: {autoSkip: false, padding: 7, font: {size: 23}, color: TXT, callback: v => fmtY(v)},
        grid: {display: false, drawTicks: false}, border: {display: false}}
    }
  },
  plugins: [barPlugin]
});
</script>
</body>
</html>
